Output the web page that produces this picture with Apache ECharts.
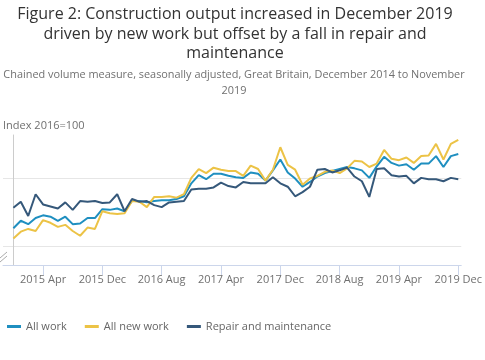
<!DOCTYPE html>
<html>
<head>
<meta charset="utf-8">
<script src="https://cdn.jsdelivr.net/npm/echarts@6/dist/echarts.min.js"></script>
<style>
  html, body { margin: 0; padding: 0; background: #fff; }
  #chart { width: 485px; height: 360px; }
</style>
</head>
<body>
<div id="chart"></div>
<script>
// Months, December 2014 to December 2019
const months = [
  '2014 Dec',
  '2015 Jan','2015 Feb','2015 Mar','2015 Apr','2015 May','2015 Jun','2015 Jul','2015 Aug','2015 Sep','2015 Oct','2015 Nov','2015 Dec',
  '2016 Jan','2016 Feb','2016 Mar','2016 Apr','2016 May','2016 Jun','2016 Jul','2016 Aug','2016 Sep','2016 Oct','2016 Nov','2016 Dec',
  '2017 Jan','2017 Feb','2017 Mar','2017 Apr','2017 May','2017 Jun','2017 Jul','2017 Aug','2017 Sep','2017 Oct','2017 Nov','2017 Dec',
  '2018 Jan','2018 Feb','2018 Mar','2018 Apr','2018 May','2018 Jun','2018 Jul','2018 Aug','2018 Sep','2018 Oct','2018 Nov','2018 Dec',
  '2019 Jan','2019 Feb','2019 Mar','2019 Apr','2019 May','2019 Jun','2019 Jul','2019 Aug','2019 Sep','2019 Oct','2019 Nov','2019 Dec'
];
const tickLabels = ['2015 Apr','2015 Dec','2016 Aug','2017 Apr','2017 Dec','2018 Aug','2019 Apr','2019 Dec'];
const gridValues = [90, 100];

const allWork = [
  92.7,
  93.8,93.3,94.2,94.6,94.4,93.8,94.4,93.3,93.4,94.2,94.2,95.5,
  95.4,95.6,95.2,96.7,96.7,96.5,96.7,96.8,96.8,97.0,97.4,99.3,
  100.5,99.9,100.7,100.7,100.4,100.2,100.1,100.9,100.7,99.7,101.2,102.8,
  100.9,100.0,98.8,99.5,100.3,100.8,101.1,101.4,101.7,101.5,101.2,100.1,
  101.8,103.2,102.3,101.9,102.1,101.3,102.2,102.2,103.3,101.7,103.3,103.6
];
const allNewWork = [
  91.2,
  92.2,92.6,92.3,93.9,93.5,92.9,93.2,92.3,91.6,92.8,92.6,95.2,
  94.9,94.8,94.9,96.7,96.6,95.8,97.3,97.3,97.4,97.2,97.7,100.1,
  101.4,100.8,101.6,101.3,101.1,101.1,100.4,101.9,101.4,99.7,101.3,104.6,
  102.0,101.3,99.1,100.0,100.4,101.0,101.2,100.8,101.5,102.6,102.5,101.7,
  102.2,104.2,102.9,102.7,103.1,102.3,103.3,103.4,105.1,102.8,105.1,105.7
];
const repairMaintenance = [
  95.7,
  96.6,94.5,97.7,96.2,95.9,95.6,96.5,95.4,96.7,96.6,96.7,96.4,
  96.5,97.7,95.2,97.0,96.6,96.7,96.1,95.8,96.5,96.6,96.7,98.4,
  98.5,98.5,98.7,99.4,98.9,98.7,99.5,99.3,99.3,99.3,100.2,99.3,
  98.8,97.4,98.0,98.8,101.3,101.4,100.9,101.2,101.6,100.3,99.6,97.3,
  101.4,101.5,100.5,100.3,100.4,99.3,100.1,99.9,99.9,99.6,100.1,99.9
];

const seriesNames = ['All work', 'All new work', 'Repair and maintenance'];
const seriesColors = ['#1f8fc0', '#ecc346', '#35587a'];
const seriesData = [allWork, allNewWork, repairMaintenance];

const tickIdx = tickLabels.map(l => months.indexOf(l));
const FONT = 'Open Sans';

const chart = echarts.init(document.getElementById('chart'), null, { renderer: 'canvas' });
chart.setOption({
  animation: false,
  backgroundColor: '#fff',
  title: [
    {
      text: 'Figure 2: Construction output increased in December 2019\ndriven by new work but offset by a fall in repair and\nmaintenance',
      left: 235, top: 5, textAlign: 'center', padding: 0,
      textStyle: { fontFamily: FONT, fontSize: 16, fontWeight: 'normal', color: '#333', lineHeight: 19.5 }
    },
    {
      text: 'Chained volume measure, seasonally adjusted, Great Britain, December 2014 to November\n2019',
      left: 234, top: 67, textAlign: 'center', padding: 0,
      textStyle: { fontFamily: FONT, fontSize: 10.9, fontWeight: 'normal', color: '#707070', lineHeight: 16 }
    },
    {
      text: 'Index 2016=100',
      left: 3, top: 120, padding: 0,
      textStyle: { fontFamily: FONT, fontSize: 11, fontWeight: 'normal', color: '#707070' }
    }
  ],
  legend: {
    data: seriesNames,
    left: 2, top: 316, padding: [5, 5, 5, 5],
    icon: 'rect', itemWidth: 14, itemHeight: 3, itemGap: 18,
    textStyle: { fontFamily: FONT, fontSize: 11, color: '#666' }
  },
  grid: { left: 3, right: 12, top: 135, bottom: 95, containLabel: false },
  xAxis: {
    type: 'value',
    min: -1.4, max: 60.4,
    axisLine: { show: true, lineStyle: { color: '#ccd6eb', width: 1 } },
    axisTick: { show: true, length: 10, customValues: tickIdx, lineStyle: { color: '#ccd6eb' } },
    axisLabel: {
      customValues: tickIdx,
      formatter: v => months[Math.round(v)],
      fontFamily: FONT, fontSize: 11, color: '#707070', margin: 9
    },
    splitLine: { show: false }
  },
  yAxis: {
    type: 'value',
    min: 87.3, max: 106.4,
    axisLine: { show: true, lineStyle: { color: '#cccccc', width: 1 } },
    axisTick: { show: false, customValues: gridValues },
    axisLabel: { show: false, customValues: gridValues },
    splitLine: { show: true, lineStyle: { color: '#e6e6e6', width: 1 } }
  },
  series: seriesNames.map((name, k) => ({
    name: name,
    type: 'line',
    data: seriesData[k].map((v, i) => [i, v]),
    showSymbol: false,
    symbol: 'none',
    lineStyle: { color: seriesColors[k], width: 2 },
    itemStyle: { color: seriesColors[k] },
    silent: true
  })),
  graphic: [
    { type: 'rect', shape: { x: 0, y: 249, width: 9, height: 15 }, style: { fill: '#fff' }, z: 100 },
    { type: 'line', shape: { x1: 0, y1: 258, x2: 7, y2: 252 }, style: { stroke: '#aaa', lineWidth: 1 }, z: 101 },
    { type: 'line', shape: { x1: 0, y1: 262, x2: 7, y2: 256 }, style: { stroke: '#aaa', lineWidth: 1 }, z: 101 }
  ]
});
</script>
</body>
</html>
